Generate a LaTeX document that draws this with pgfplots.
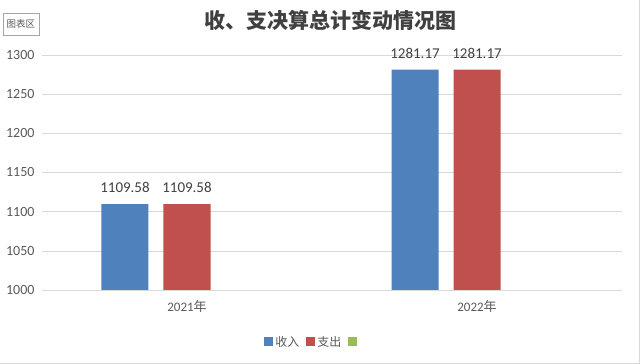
\documentclass[border=0pt]{standalone}
\usepackage{pgfplots}
\pgfplotsset{compat=1.18}
\usepackage{fontspec}
\setmainfont{Carlito}
\newfontfamily\cjk{Noto Sans CJK SC}
\newcommand\nian{{\cjk 年}}
\definecolor{cblue}{HTML}{4F81BD}
\definecolor{cred}{HTML}{C0504D}
\definecolor{cgreen}{HTML}{9BBB59}
\definecolor{tgray}{HTML}{595959}
\definecolor{dgray}{HTML}{404040}
\definecolor{lgray}{HTML}{D9D9D9}
\begin{document}
\begin{tikzpicture}
\begin{axis}[
  at={(0pt,0pt)}, anchor=south west,
  scale only axis, width=580pt, height=235pt,
  xmin=-0.5, xmax=1.5, ymin=1000, ymax=1300,
  ybar, bar width=47pt,
  xtick={0,1}, xticklabels={2021\nian,2022\nian},
  ytick={1000,1050,...,1300},
  /pgf/number format/assume math mode=true,
  /pgf/number format/1000 sep={},
  axis lines*=left,
  y axis line style={draw=none},
  x axis line style={draw=lgray, line width=0.8pt},
  major tick length=0pt,
  ymajorgrids, major grid style={draw=lgray, line width=0.6pt},
  xticklabel style={font=\fontsize{13}{15}\selectfont, text=tgray, yshift=-7pt},
  yticklabel style={font=\fontsize{14}{16}\selectfont, text=tgray, xshift=-4pt},
  legend style={at={(axis description cs:0.467,-0.221)}, anchor=center, draw=none,
    fill=none, font=\fontsize{12}{14}\selectfont\cjk, text=tgray,
    legend columns=3, /tikz/every even column/.append style={column sep=5pt},
    inner sep=0pt},
  legend image code/.code={\fill[#1] (0pt,-4.5pt) rectangle (9pt,4.5pt);},
]
\addplot[fill=cblue, draw=none, bar shift=-62pt, point meta=explicit symbolic, nodes near coords,
  every node near coord/.append style={font=\fontsize{15}{17}\selectfont, text=dgray, yshift=8pt}]
  coordinates {(0,1109.58) [1109.58] (1,1281.17) [1281.17]};
\addlegendentry{收入}
\addplot[fill=cred, draw=none, bar shift=0pt, point meta=explicit symbolic, nodes near coords,
  every node near coord/.append style={font=\fontsize{15}{17}\selectfont, text=dgray, yshift=8pt}]
  coordinates {(0,1109.58) [1109.58] (1,1281.17) [1281.17]};
\addlegendentry{支出}
\addlegendimage{fill=cgreen, draw=none}
\addlegendentry{\hbox{}}
\end{axis}
\node[font=\fontsize{21}{24}\selectfont\cjk\bfseries, text=dgray] at (288pt,270pt) {收、支决算总计变动情况图};
\draw[draw=gray!70, fill=white] (-39pt,277pt) rectangle (-3pt,255pt);
\node[font=\fontsize{9.5}{10}\selectfont\cjk, text=tgray] at (-21pt,266pt) {图表区};
\draw[lgray, line width=1pt] (-42pt,-73pt) -- (597pt,-73pt) -- (597pt,290pt);
\pgfresetboundingbox
\path (-42pt,-74pt) rectangle (598pt,290pt);
\end{tikzpicture}
\end{document}
